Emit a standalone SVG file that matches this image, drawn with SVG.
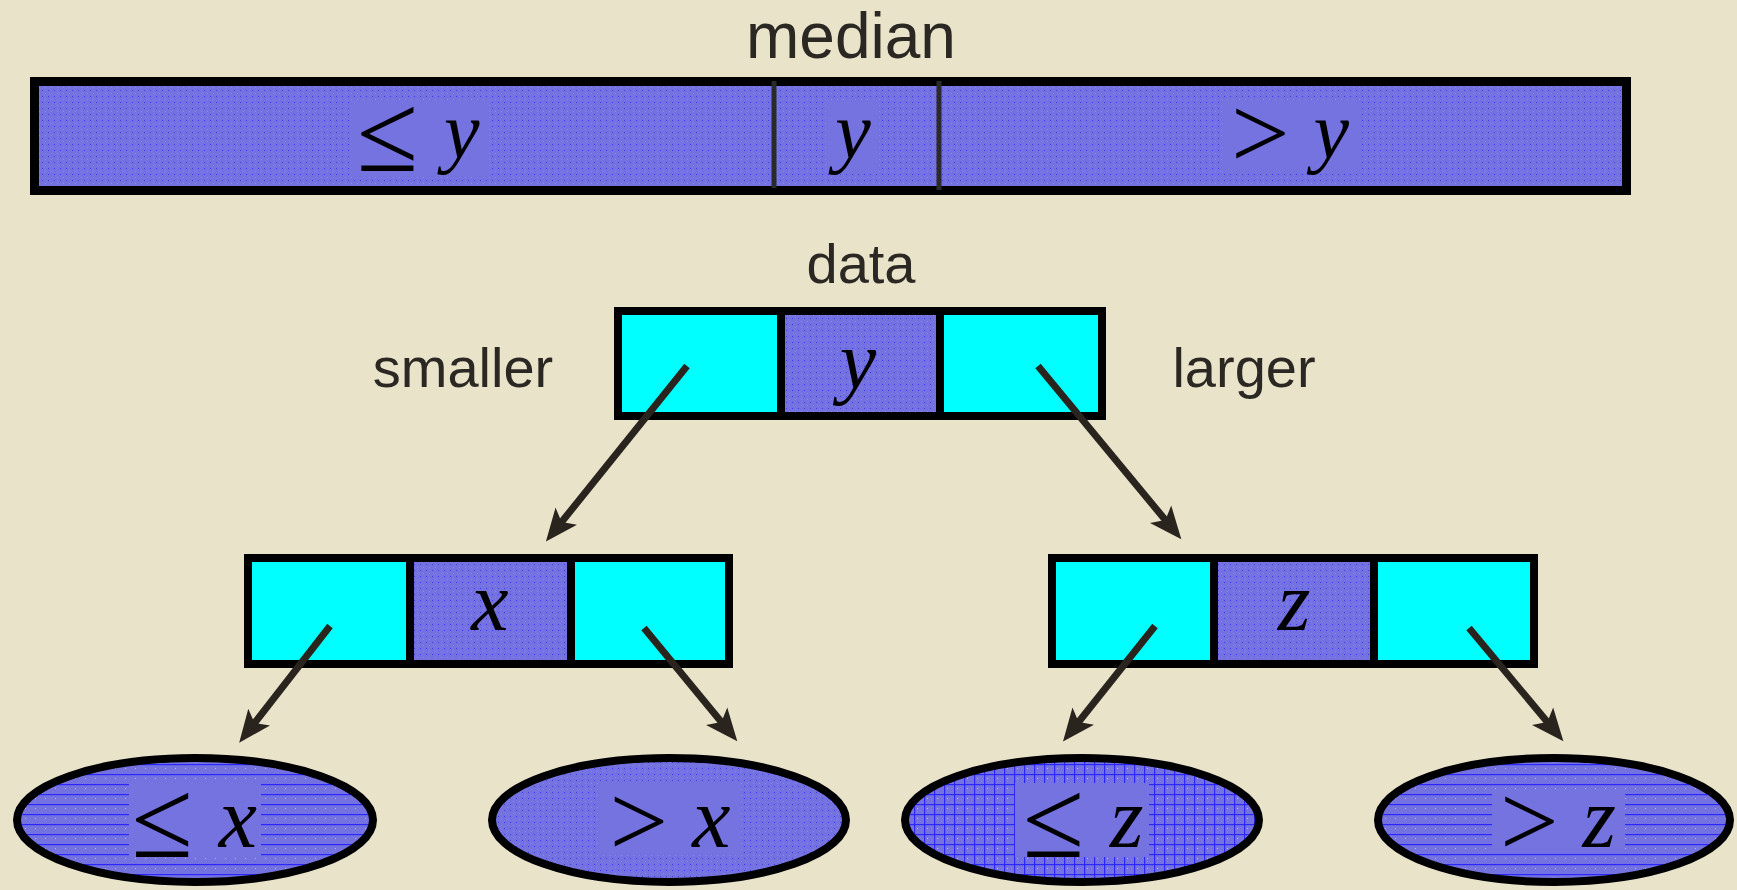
<svg xmlns="http://www.w3.org/2000/svg" width="1737" height="890" viewBox="0 0 1737 890">
  <defs>
    <pattern id="dots" width="6" height="6" patternUnits="userSpaceOnUse">
      <rect width="6" height="6" fill="#7472e0"/>
      <rect x="0" y="0" width="1" height="1" fill="#3a38f0"/>
      <rect x="3" y="3" width="1" height="1" fill="#8a88e8"/>
    </pattern>
    <pattern id="hlines" width="10" height="10" patternUnits="userSpaceOnUse">
      <rect width="10" height="10" fill="#7472e0"/>
      <rect x="0" y="4" width="10" height="1.2" fill="#2a28ff"/>
      <rect x="5" y="8" width="1" height="1" fill="#b8b6f0"/>
    </pattern>
    <pattern id="grid" width="10" height="10" patternUnits="userSpaceOnUse">
      <rect width="10" height="10" fill="#7472e0"/>
      <rect x="0" y="4" width="10" height="1.2" fill="#2a28ff"/>
      <rect x="4" y="0" width="1.2" height="10" fill="#2a28ff"/>
      <rect x="7" y="8" width="1" height="1" fill="#c0bef0"/>
    </pattern>
    <marker id="arrow" markerUnits="userSpaceOnUse" markerWidth="40" markerHeight="40" viewBox="-2 -14 32 28" refX="8" refY="0" orient="auto">
      <path d="M26,0 L0,-11 L6,0 L0,11 Z" fill="#2a241e"/>
    </marker>
  </defs>
  <style>
    .lbl { font-family: "Liberation Sans", Arial, sans-serif; fill: #2b2824; text-anchor: middle; }
    .math { font-family: "Liberation Serif", "Times New Roman", serif; fill: #000; text-anchor: middle; }
    .it { font-style: italic; }
    .le { font-size: 112px; }
    .gt { font-size: 104px; }
    .box { stroke: #000; stroke-width: 8; }
    .cyan { fill: #00ffff; }
    .purple { fill: url(#dots); }
    .div { stroke: #000; stroke-width: 8; }
    .ell { stroke: #000; stroke-width: 8; }
    .lblbg { fill: #7573e0; }
    .conn { stroke: #2a241e; stroke-width: 7; fill: none; marker-end: url(#arrow); }
  </style>

  <rect width="1737" height="890" fill="#e9e3c9"/>

  <g id="median-array">
    <text class="lbl" x="851" y="58" font-size="64">median</text>
    <rect x="34.5" y="81.5" width="1592" height="109" fill="url(#dots)" stroke="#000" stroke-width="9"/>
    <line x1="774" y1="81" x2="774" y2="188" stroke="#2a2a2a" stroke-width="5"/>
    <line x1="939" y1="81" x2="939" y2="190" stroke="#2a2a2a" stroke-width="5"/>
    <rect class="lblbg" x="350" y="100" width="138" height="76"/>
    <text class="math" x="418" y="158" font-size="80"><tspan class="le" dy="13">≤</tspan><tspan class="it" dx="26" dy="-13">y</tspan></text>
    <rect class="lblbg" x="828" y="102" width="50" height="72"/>
    <text class="math it" x="853" y="158" font-size="80">y</text>
    <rect class="lblbg" x="1222" y="100" width="138" height="74"/>
    <text class="math" x="1290" y="158" font-size="80"><tspan class="gt" dy="10">&gt;</tspan><tspan class="it" dx="24" dy="-10">y</tspan></text>
  </g>

  <g id="data-node">
    <text class="lbl" x="861" y="283" font-size="56">data</text>
    <text class="lbl" x="463" y="387" font-size="56">smaller</text>
    <text class="lbl" x="1244" y="387" font-size="56">larger</text>
    <rect class="cyan" x="618" y="311" width="163" height="105"/>
    <rect class="purple" x="781" y="311" width="159" height="105"/>
    <rect class="cyan" x="940" y="311" width="162" height="105"/>
    <rect x="618" y="311" width="484" height="105" fill="none" class="box"/>
    <line class="div" x1="781" y1="311" x2="781" y2="416"/>
    <line class="div" x1="940" y1="311" x2="940" y2="416"/>
    <text class="math it" x="858" y="388" font-size="82">y</text>
  </g>

  <g id="x-node">
    <rect class="cyan" x="248" y="558" width="162" height="106"/>
    <rect class="purple" x="410" y="558" width="161" height="106"/>
    <rect class="cyan" x="571" y="558" width="158" height="106"/>
    <rect x="248" y="558" width="481" height="106" fill="none" class="box"/>
    <line class="div" x1="410" y1="558" x2="410" y2="664"/>
    <line class="div" x1="571" y1="558" x2="571" y2="664"/>
    <text class="math it" x="490" y="630" font-size="84">x</text>
  </g>

  <g id="z-node">
    <rect class="cyan" x="1052" y="558" width="162" height="106"/>
    <rect class="purple" x="1214" y="558" width="160" height="106"/>
    <rect class="cyan" x="1374" y="558" width="160" height="106"/>
    <rect x="1052" y="558" width="482" height="106" fill="none" class="box"/>
    <line class="div" x1="1214" y1="558" x2="1214" y2="664"/>
    <line class="div" x1="1374" y1="558" x2="1374" y2="664"/>
    <text class="math it" x="1294" y="630" font-size="84">z</text>
  </g>

  <g id="leaf-le-x">
    <ellipse class="ell" cx="195" cy="820" rx="178" ry="62" fill="url(#hlines)"/>
    <rect class="lblbg" x="129" y="783" width="132" height="74"/>
    <text class="math" x="194" y="847" font-size="86"><tspan class="le" dy="10">≤</tspan><tspan class="it" dx="26" dy="-10">x</tspan></text>
  </g>

  <g id="leaf-gt-x">
    <ellipse class="ell" cx="669" cy="820" rx="177" ry="62" fill="url(#dots)"/>
    <rect class="lblbg" x="600" y="783" width="140" height="70"/>
    <text class="math" x="670" y="847" font-size="86"><tspan class="gt" dy="9">&gt;</tspan><tspan class="it" dx="24" dy="-9">x</tspan></text>
  </g>

  <g id="leaf-le-z">
    <ellipse class="ell" cx="1082" cy="820" rx="177" ry="62" fill="url(#grid)"/>
    <rect class="lblbg" x="1015" y="783" width="134" height="74"/>
    <text class="math" x="1083" y="847" font-size="86"><tspan class="le" dy="10">≤</tspan><tspan class="it" dx="26" dy="-10">z</tspan></text>
  </g>

  <g id="leaf-gt-z">
    <ellipse class="ell" cx="1554" cy="820" rx="176" ry="62" fill="url(#hlines)"/>
    <rect class="lblbg" x="1492" y="790" width="133" height="60"/>
    <text class="math" x="1558" y="847" font-size="86"><tspan class="gt" dy="9">&gt;</tspan><tspan class="it" dx="24" dy="-9">z</tspan></text>
  </g>

  <g id="connectors">
    <line class="conn" x1="687" y1="366" x2="560" y2="524"/>
    <line class="conn" x1="1038" y1="366" x2="1167" y2="522"/>
    <line class="conn" x1="330" y1="626" x2="253" y2="725"/>
    <line class="conn" x1="644" y1="628" x2="723" y2="724"/>
    <line class="conn" x1="1155" y1="626" x2="1077" y2="724"/>
    <line class="conn" x1="1469" y1="628" x2="1549" y2="724"/>
  </g>
</svg>
